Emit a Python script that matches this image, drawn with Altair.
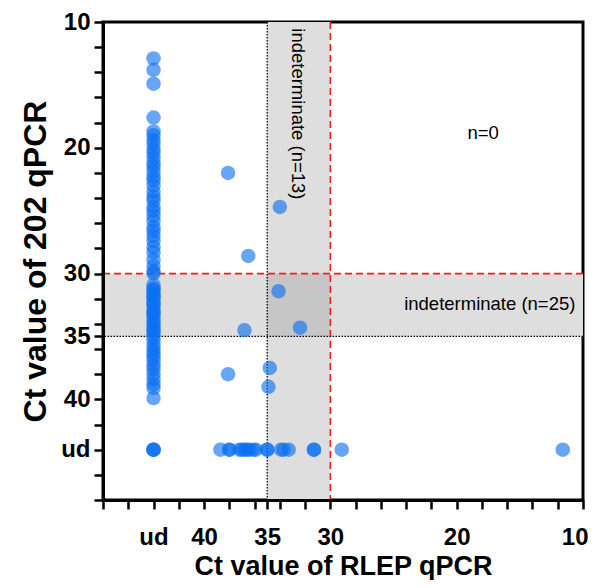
import altair as alt
import pandas as pd

UD = 44  # position of "ud" (undetermined) on both axes

# ud on RLEP, values on 202 qPCR
column_y = [12.9, 13.8, 14.9, 17.6, 18.7, 19.0, 19.4, 19.7, 20.1, 20.4, 20.8, 21.2,
            21.5, 21.9, 22.3, 22.6, 23.0, 23.5, 23.9, 24.2, 24.7, 25.0, 25.4, 25.8,
            26.3, 26.6, 27.0, 27.4, 27.9, 28.3, 28.9, 29.4, 29.8, 30.0, 30.9, 31.2,
            31.3, 31.6, 31.8, 31.9, 32.2, 32.4, 32.6, 32.9, 33.1, 33.2, 33.5, 33.8,
            34.0, 34.3, 34.5, 34.7, 35.0, 35.3, 35.7, 36.0, 36.3, 36.6, 36.9, 37.3,
            37.6, 38.0, 38.4, 38.8, 39.1, 39.9]
# points with both values
scatter_x = [38.1, 34.0, 36.5, 34.1, 36.8, 32.4, 38.1, 34.8, 34.9]
scatter_y = [22.0, 24.7, 28.6, 31.4, 34.5, 34.3, 38.0, 37.5, 39.0]
# ud on 202 qPCR, values on RLEP
ud_row_x = [44, 44, 44, 38.7, 38.0, 38.0, 37.2, 37.0, 36.8, 36.6, 36.4, 36.1,
            35.9, 35.0, 35.0, 33.9, 33.7, 33.3, 31.3, 31.3, 29.1, 11.6]

tick_values = [48, 46, 44, 42, 40, 38, 36, 35, 34, 32, 30, 28, 26, 24, 22, 20,
               18, 16, 14, 12, 10]
label_values = [10, 20, 30, 35, 40]

points = pd.DataFrame({
    "rlep": [UD] * len(column_y) + scatter_x + ud_row_x,
    "p202": column_y + scatter_y + [UD] * len(ud_row_x),
})

bands = pd.DataFrame({
    "x1": [35, 48, 35], "x2": [30, 10, 30],
    "y1": [10, 30, 30], "y2": [48, 35, 35],
    "c": ["#dedede", "#dedede", "#c6c6c6"],
})
red_v = pd.DataFrame({"x": [30]})
red_h = pd.DataFrame({"y": [30]})
dot_v = pd.DataFrame({"x": [35]})
dot_h = pd.DataFrame({"y": [35]})

lab_expr = ("datum.value == %d ? 'ud' : (indexof(%s, datum.value) >= 0 ? datum.label : '')"
            % (UD, str(label_values)))

FONT = "Liberation Sans"
common_axis = dict(
    values=tick_values, labelExpr=lab_expr, grid=False,
    domainWidth=3, domainColor="black", tickWidth=2.5, tickColor="black",
    tickSize=9, labelFont=FONT, labelFontSize=24, labelFontWeight="bold",
    labelColor="black", titleFont=FONT, titleFontWeight="bold",
    titleColor="black", labelOverlap=False, zindex=1,
)
xaxis = alt.Axis(title="Ct value of RLEP qPCR", labelPadding=16,
                 titleFontSize=27, titlePadding=4, labelFlush=True,
                 labelFlushOffset=5, **common_axis)
yaxis = alt.Axis(title="Ct value of 202 qPCR", labelPadding=4,
                 titleFontSize=32, titlePadding=8, labelFlush=False,
                 **common_axis)

xscale = alt.Scale(domain=[10, 48], reverse=True, nice=False, zero=False)
yscale = alt.Scale(domain=[10, 48], reverse=True, nice=False, zero=False)


def X(f):
    return alt.X(f, type="quantitative", scale=xscale, axis=xaxis)


def Y(f):
    return alt.Y(f, type="quantitative", scale=yscale, axis=yaxis)


band_layer = alt.Chart(bands).mark_rect().encode(
    x=X("x1"), x2="x2", y=Y("y1"), y2="y2",
    color=alt.Color("c:N", scale=None))

red_v_layer = alt.Chart(red_v).mark_rule(color="#ff1a1a", strokeWidth=1.6,
                                         strokeDash=[7, 4]).encode(x=X("x"))
red_h_layer = alt.Chart(red_h).mark_rule(color="#ff1a1a", strokeWidth=1.6,
                                         strokeDash=[7, 4]).encode(y=Y("y"))
dot_v_layer = alt.Chart(dot_v).mark_rule(color="black", strokeWidth=1.3,
                                         strokeDash=[1.5, 1.5]).encode(x=X("x"))
dot_h_layer = alt.Chart(dot_h).mark_rule(color="black", strokeWidth=1.3,
                                         strokeDash=[1.5, 1.5]).encode(y=Y("y"))

pt_layer = alt.Chart(points).mark_circle(size=210, opacity=0.62,
                                         color="#0a6ff2").encode(
    x=X("rlep"), y=Y("p202"))

ann1 = pd.DataFrame({"x": [17.9], "y": [18.8], "t": ["n=0"]})
ann2 = pd.DataFrame({"x": [10.6], "y": [32.4], "t": ["indeterminate (n=25)"]})
ann3 = pd.DataFrame({"x": [32.6], "y": [10.5], "t": ["indeterminate (n=13)"]})

t1 = alt.Chart(ann1).mark_text(font=FONT, fontSize=18.5, color="black",
                               align="center", baseline="middle").encode(
    x=X("x"), y=Y("y"), text="t:N")
t2 = alt.Chart(ann2).mark_text(font=FONT, fontSize=18.5, color="black",
                               align="right", baseline="middle").encode(
    x=X("x"), y=Y("y"), text="t:N")
t3 = alt.Chart(ann3).mark_text(font=FONT, fontSize=18.5, color="black",
                               align="left", baseline="middle",
                               angle=90).encode(
    x=X("x"), y=Y("y"), text="t:N")

chart = alt.layer(
    band_layer, red_v_layer, red_h_layer, dot_v_layer, dot_h_layer,
    pt_layer, t1, t2, t3,
).properties(
    width=480, height=478,
    autosize=alt.AutoSizeParams(type="none"),
    padding={"left": 95, "top": 14, "right": 7, "bottom": 80},
).configure_view(stroke="black", strokeWidth=3)

chart.save("out.html", embed_options={"renderer": "svg", "actions": False})
